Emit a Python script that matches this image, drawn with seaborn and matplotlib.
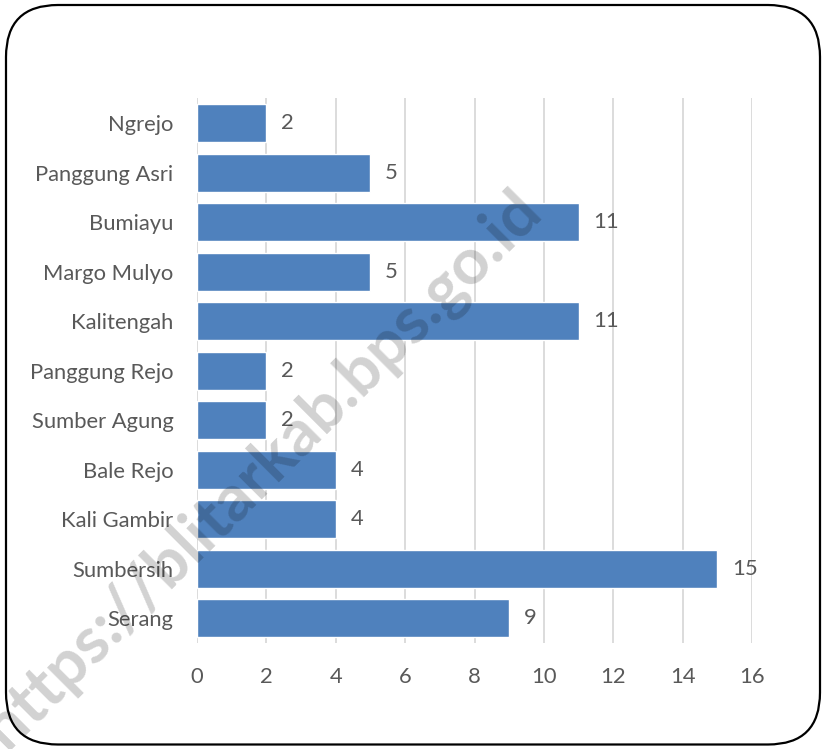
import matplotlib.pyplot as plt
import numpy as np
import pandas as pd
import seaborn as sns
from matplotlib.patches import FancyBboxPatch

desa = ['Ngrejo', 'Panggung Asri', 'Bumiayu', 'Margo Mulyo', 'Kalitengah',
        'Panggung Rejo', 'Sumber Agung', 'Bale Rejo', 'Kali Gambir',
        'Sumbersih', 'Serang']
jumlah = [2, 5, 11, 5, 11, 2, 2, 4, 4, 15, 9]
xticks = [0, 2, 4, 6, 8, 10, 12, 14, 16]

df = pd.DataFrame({'desa': desa, 'jumlah': jumlah})

sns.set_style('white')
plt.rcParams['font.family'] = ['Lato', 'DejaVu Sans']
txt = '#595959'

fig = plt.figure(figsize=(8.26, 7.49), dpi=100)
ax = fig.add_axes([0.2385, 0.1415, 0.672, 0.727])

sns.barplot(data=df, x='jumlah', y='desa', orient='h', color='#4F81BD',
            saturation=1, width=0.77, ax=ax, zorder=3)

ax.set_xlim(0, 16)
ax.set_xticks(xticks)
ax.set_xticklabels([str(t) for t in xticks])
ax.grid(axis='x', color='#D9D9D9', linewidth=1.3, zorder=0)
ax.set_axisbelow(True)
for s in ax.spines.values():
    s.set_visible(False)
ax.tick_params(axis='both', length=0, labelsize=15.8, colors=txt)
ax.tick_params(axis='y', pad=17)
ax.tick_params(axis='x', pad=17)
ax.set_xlabel('')
ax.set_ylabel('')

for i, v in enumerate(jumlah):
    ax.text(v + 0.42, i, str(v), va='center', ha='left', fontsize=15.8, color=txt)

# rounded frame
frame = FancyBboxPatch((0.06, 0.045), 8.14, 7.395,
                       boxstyle='round,pad=0,rounding_size=0.52',
                       transform=fig.dpi_scale_trans, fill=False,
                       edgecolor='black', linewidth=1.6, zorder=10)
fig.patches.append(frame)

# watermark
fig.text(0.318, 0.372, 'https://blitarkab.bps.go.id', rotation=45,
         ha='center', va='center', fontsize=47, fontweight='bold',
         color='black', alpha=0.18, zorder=20)

fig.savefig('out.png', dpi=100)
